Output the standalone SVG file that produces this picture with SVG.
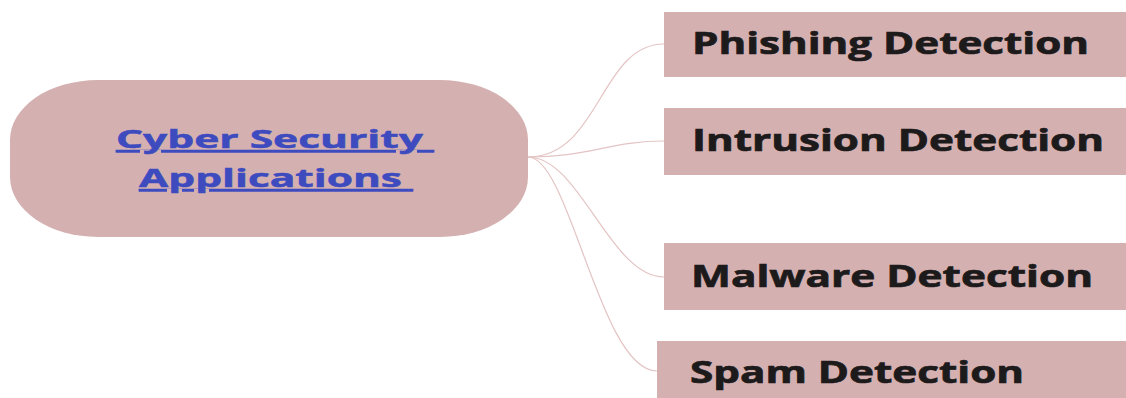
<svg xmlns="http://www.w3.org/2000/svg" width="1126" height="398" viewBox="0 0 1126 398">
  <style>
    .box { fill: #d5b0b1; }
    .label { font-family: "Open Sans", "Liberation Sans", sans-serif; font-weight: bold; font-size: 30px; fill: #1c1a1a; stroke: #1c1a1a; stroke-width: 0.7; }
    .root { font-family: "Open Sans", "Liberation Sans", sans-serif; font-weight: bold; font-size: 25px; fill: #3d4bbf; stroke: #3d4bbf; stroke-width: 0.5; text-decoration: underline; }
    .link { fill: none; stroke: #e4c4c4; stroke-width: 1.2; }
  </style>
  <rect width="1126" height="398" fill="#ffffff"/>

  <!-- branch connectors -->
  <g id="connectors">
    <path class="link" d="M528,157 C600,157 600,44 664,44"/>
    <path class="link" d="M528,157 C590,157 610,141 664,141"/>
    <path class="link" d="M528,157 C580,157 610,277 664,277"/>
    <path class="link" d="M528,157 C570,157 600,371 657,371"/>
  </g>

  <!-- central topic -->
  <g id="root">
    <rect class="box" x="10" y="80" width="518" height="157" rx="88" ry="60"/>
    <text class="root" x="116" y="148" textLength="318" lengthAdjust="spacingAndGlyphs" xml:space="preserve">Cyber Security </text>
    <text class="root" x="139" y="187" textLength="274" lengthAdjust="spacingAndGlyphs" xml:space="preserve">Applications </text>
  </g>

  <g id="phishing">
    <rect class="box" x="664" y="12" width="470" height="65"/>
    <text class="label" x="692" y="54" textLength="397" lengthAdjust="spacingAndGlyphs">Phishing Detection</text>
  </g>

  <g id="intrusion">
    <rect class="box" x="664" y="108" width="470" height="67"/>
    <text class="label" x="692" y="151" textLength="412" lengthAdjust="spacingAndGlyphs">Intrusion Detection</text>
  </g>

  <g id="malware">
    <rect class="box" x="664" y="243" width="470" height="67"/>
    <text class="label" x="691" y="287" textLength="402" lengthAdjust="spacingAndGlyphs">Malware Detection</text>
  </g>

  <g id="spam">
    <rect class="box" x="657" y="341" width="477" height="66"/>
    <text class="label" x="690" y="383" textLength="334" lengthAdjust="spacingAndGlyphs">Spam Detection</text>
  </g>
</svg>
